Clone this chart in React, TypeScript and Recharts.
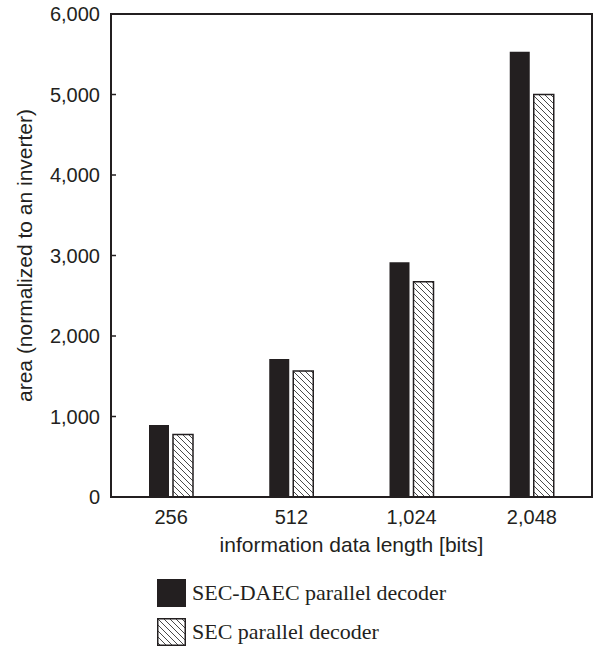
import React from 'react';
import { BarChart, Bar, XAxis, YAxis, ReferenceArea } from 'recharts';

const categories = ['256', '512', '1,024', '2,048'];
const secDaecValues = [895, 1715, 2915, 5530];
const secValues = [775, 1565, 2675, 5000];
const yTicks = [0, 1000, 2000, 3000, 4000, 5000, 6000];
const seriesNames = ['SEC-DAEC parallel decoder', 'SEC parallel decoder'];
const xLabel = 'information data length [bits]';
const yLabel = 'area (normalized to an inverter)';

const data = categories.map((c, i) => ({
  category: c,
  secDaec: secDaecValues[i],
  sec: secValues[i],
}));

const INK = '#231f20';
const SANS = '"Liberation Sans", Arial, sans-serif';
const SERIF = '"Liberation Serif", "Times New Roman", serif';
const Y_TICK_MARGIN = 11;
const INNER_TICK = 5;

const fmt = (v: number) => v.toLocaleString('en-US');

const HatchPattern = ({ id }: { id: string }) => (
  <pattern id={id} patternUnits="userSpaceOnUse" width={6} height={6}>
    <rect x={0} y={0} width={6} height={6} fill="#ffffff" />
    <path d="M0,0 L6,6 M-1,5 L1,7 M5,-1 L7,1" stroke="#4a4a4a" strokeWidth={1} />
  </pattern>
);

const LeftTick = (props: any) => {
  const { x, y, payload } = props;
  const v = payload.value as number;
  const axisX = x + Y_TICK_MARGIN;
  const inner = v !== yTicks[0] && v !== yTicks[yTicks.length - 1];
  return (
    <g>
      {inner && (
        <line x1={axisX} y1={y} x2={axisX + INNER_TICK} y2={y} stroke={INK} strokeWidth={1.5} />
      )}
      <text
        x={x}
        y={y}
        dy="0.355em"
        textAnchor="end"
        fill={INK}
        fontSize={20}
        fontFamily={SANS}
      >
        {fmt(v)}
      </text>
    </g>
  );
};

export default function App() {
  const fills = [INK, 'url(#hatchBar)'];
  return (
    <div style={{ position: 'absolute', left: 0, top: 0, width: 596, height: 649, background: '#fff' }}>
      <BarChart
        width={596}
        height={649}
        data={data}
        margin={{ top: 14, right: 4, bottom: 92, left: 0 }}
        barSize={20}
        barGap={4}
      >
        <defs>
          <HatchPattern id="hatchBar" />
        </defs>
        <XAxis
          dataKey="category"
          height={60}
          tickLine={false}
          tickSize={0}
          tickMargin={13}
          axisLine={{ stroke: INK, strokeWidth: 2 }}
          tick={{ fill: INK, fontSize: 20, fontFamily: SANS }}
          label={{
            value: xLabel,
            position: 'insideBottom',
            offset: 5,
            style: { fill: INK, fontSize: 21, fontFamily: SANS, textAnchor: 'middle' },
          }}
        />
        <YAxis
          width={111}
          domain={[0, 6000]}
          ticks={yTicks}
          tickSize={0}
          tickMargin={Y_TICK_MARGIN}
          tickLine={false}
          axisLine={{ stroke: INK, strokeWidth: 2 }}
          tick={<LeftTick />}
          label={{
            value: yLabel,
            angle: -90,
            position: 'insideLeft',
            offset: 25,
            style: { fill: INK, fontSize: 21, fontFamily: SANS, textAnchor: 'middle' },
          }}
        />
        <YAxis
          yAxisId="innerRight"
          orientation="right"
          mirror
          width={10}
          domain={[0, 6000]}
          ticks={yTicks}
          tick={false}
          tickSize={INNER_TICK}
          tickLine={{ stroke: INK, strokeWidth: 1.5 }}
          axisLine={false}
        />
        <Bar dataKey="secDaec" name={seriesNames[0]} fill={fills[0]} isAnimationActive={false} />
        <Bar
          dataKey="sec"
          name={seriesNames[1]}
          fill={fills[1]}
          stroke={INK}
          strokeWidth={1.5}
          isAnimationActive={false}
        />
        <ReferenceArea
          x1={categories[0]}
          x2={categories[categories.length - 1]}
          y1={0}
          y2={6000}
          fill="none"
          fillOpacity={0}
          stroke={INK}
          strokeWidth={2}
          strokeOpacity={1}
        />
      </BarChart>
      <svg
        width={596}
        height={89}
        style={{ position: 'absolute', left: 0, top: 560, pointerEvents: 'none' }}
      >
        <defs>
          <HatchPattern id="hatchLegend" />
        </defs>
        {seriesNames.map((name, i) => (
          <g key={name} transform={`translate(0, ${i * 39})`}>
            {i === 0 ? (
              <rect x={157} y={19} width={29} height={28} fill={INK} />
            ) : (
              <rect x={157.75} y={19.75} width={27.5} height={26.5} fill="url(#hatchLegend)" stroke={INK} strokeWidth={1.5} />
            )}
            <text x={192} y={40} fill={INK} fontSize={22} fontFamily={SERIF}>
              {name}
            </text>
          </g>
        ))}
      </svg>
    </div>
  );
}
